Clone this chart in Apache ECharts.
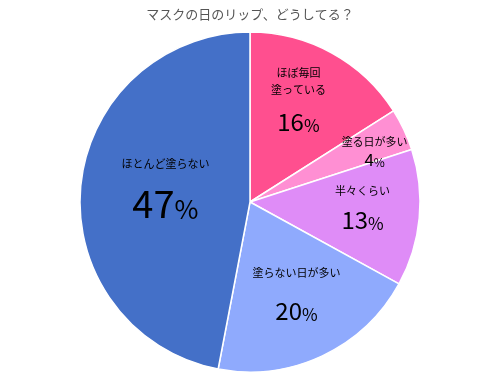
<!DOCTYPE html>
<html><head><meta charset="utf-8">
<script src="https://cdn.jsdelivr.net/npm/echarts@6/dist/echarts.min.js"></script>
<style>html,body{margin:0;padding:0;background:#fff}#c{width:500px;height:385px}</style>
</head><body><div id="c"></div>
<script>
const title = 'マスクの日のリップ、どうしてる？';
const categories = ['ほぼ毎回\n塗っている', '塗る日が多い', '半々くらい', '塗らない日が多い', 'ほとんど塗らない'];
const values = [16, 4, 13, 20, 47];
const colors = ['#FF4F8F', '#FF8FD3', '#DF8CF7', '#8FAAFD', '#4470C8'];
const numSize = [24, 17, 24, 24, 38];
const pctSize = [17, 12, 17, 17, 26];
const nameGap = [36, 18, 32, 42, 50];
const offsets = [[6, -26], [45, -14], [25, -3], [9, 12], [3, -5]];

const chart = echarts.init(document.getElementById('c'));
const FONT = '"Noto Sans CJK JP", "Noto Sans", sans-serif';
chart.setOption({
  animation: false,
  title: {
    text: title, left: 'center', top: 3,
    textStyle: { fontFamily: FONT, fontSize: 13, fontWeight: 'normal', color: '#555' }
  },
  series: [{
    type: 'pie',
    center: [250, 202],
    radius: [0, 170],
    startAngle: 90,
    clockwise: true,
    itemStyle: { borderColor: '#fff', borderWidth: 1.5 },
    labelLine: { show: false },
    labelLayout: function (p) {
      const o = offsets[p.dataIndex];
      return { dx: o[0], dy: o[1] };
    },
    data: categories.map((c, i) => ({
      name: c, value: values[i],
      itemStyle: { color: colors[i] },
      label: {
        show: true, position: 'inside',
        fontFamily: FONT, color: '#000',
        formatter: '{a|' + c.replace('\n', '}\n{a|') + '}\n{n|' + values[i] + '}{p|%}',
        rich: {
          a: { fontFamily: FONT, fontSize: 11, color: '#000', lineHeight: 17, align: 'center' },
          n: { fontFamily: FONT, fontSize: numSize[i], color: '#000', lineHeight: nameGap[i], verticalAlign: 'bottom' },
          p: { fontFamily: FONT, fontSize: pctSize[i], color: '#000', lineHeight: nameGap[i], verticalAlign: 'bottom' }
        }
      }
    }))
  }]
});
</script></body></html>
